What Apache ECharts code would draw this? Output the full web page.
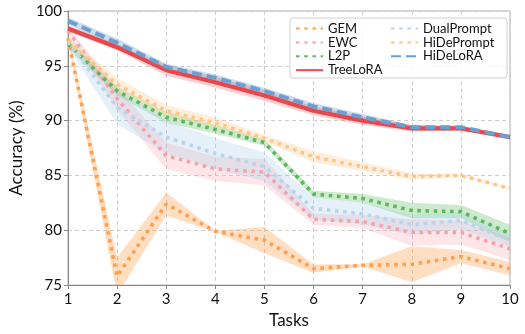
<!DOCTYPE html>
<html><head><meta charset="utf-8">
<script src="https://cdn.jsdelivr.net/npm/echarts@6/dist/echarts.min.js"></script>
<style>html,body{margin:0;padding:0;background:#fff}#c{width:525px;height:334px}</style>
</head><body><div id="c"></div>
<script>
const tasks = [1,2,3,4,5,6,7,8,9,10];
const yTicks = [75,80,85,90,95,100];

const gemMean = [97.5, 75.8, 82.4, 79.9, 79.1, 76.5, 76.8, 76.9, 77.6, 76.5];
const gemStd  = [0.3, 1.7, 1.05, 0.05, 1.2, 0.38, 0.1, 1.65, 0.6, 0.6];
const ewcMean = [98.2, 92.0, 86.8, 85.6, 85.3, 81.0, 80.8, 79.8, 79.8, 78.3];
const ewcStd  = [0.3, 1.0, 1.2, 1.1, 1.2, 0.5, 0.6, 1.2, 1.1, 1.0];
const l2pMean = [97.0, 92.7, 90.3, 89.2, 88.0, 83.3, 82.9, 81.8, 81.7, 79.7];
const l2pStd  = [0.4, 0.4, 0.5, 0.4, 0.3, 0.3, 0.4, 0.7, 0.6, 0.8];
const treeMean = [98.4, 96.7, 94.6, 93.5, 92.3, 90.9, 90.0, 89.3, 89.3, 88.5];
const treeStd  = [0.3, 0.3, 0.5, 0.5, 0.5, 0.4, 0.4, 0.3, 0.2, 0.1];
const dualMean = [97.2, 91.2, 88.5, 87.0, 85.8, 82.0, 81.5, 80.5, 80.9, 79.1];
const dualStd  = [0.5, 1.5, 1.5, 1.4, 1.3, 1.0, 1.0, 0.9, 0.8, 0.6];
const hidepMean = [97.3, 93.3, 90.9, 89.8, 88.4, 86.7, 85.8, 84.9, 85.0, 83.8];
const hidepStd  = [0.3, 0.6, 0.5, 0.5, 0.3, 0.5, 0.4, 0.3, 0.1, 0.1];
const hidelMean = [99.1, 97.1, 94.9, 93.9, 92.7, 91.3, 90.3, 89.4, 89.4, 88.5];
const hidelStd  = [0.3, 0.4, 0.3, 0.3, 0.3, 0.3, 0.3, 0.2, 0.1, 0.1];

const DOT = [3.6, 4.6];
const methods = [
  {name:'GEM', mean:gemMean, std:gemStd, color:'#ffa14f', band:'rgba(255,160,80,0.35)', type:DOT, width:3.6},
  {name:'EWC', mean:ewcMean, std:ewcStd, color:'#f7a3ad', band:'rgba(247,163,173,0.28)', type:DOT, width:3.6},
  {name:'L2P', mean:l2pMean, std:l2pStd, color:'#5cb85c', band:'rgba(92,184,92,0.3)', type:DOT, width:3.6},
  {name:'TreeLoRA', mean:treeMean, std:treeStd, color:'#e9474c', band:'rgba(233,71,76,0.25)', type:'solid', width:4.2},
  {name:'DualPrompt', mean:dualMean, std:dualStd, color:'#b9d5ec', band:'rgba(170,205,232,0.3)', type:DOT, width:3.6},
  {name:'HiDePrompt', mean:hidepMean, std:hidepStd, color:'#ffc688', band:'rgba(255,198,136,0.3)', type:DOT, width:3.6},
  {name:'HiDeLoRA', mean:hidelMean, std:hidelStd, color:'#6b9fcf', band:'rgba(107,159,207,0.35)', type:[10,5], width:4}
];

const FONT = 'Lato';
const series = [];
methods.forEach((m, i) => {
  const rows = tasks.map((t, k) => [t, m.mean[k] - m.std[k], m.mean[k] + m.std[k]]);
  series.push({
    name: m.name + '_band', type: 'custom', data: rows, silent: true, clip: true,
    z: 2 + i * 0.1,
    encode: {x: 0, y: [1, 2]},
    renderItem: function (params, api) {
      const idx = params.dataIndex;
      if (idx >= rows.length - 1) return null;
      const a = rows[idx], b = rows[idx + 1];
      const pts = [
        api.coord([a[0], a[1]]), api.coord([b[0], b[1]]),
        api.coord([b[0], b[2]]), api.coord([a[0], a[2]])
      ];
      return {type: 'polygon', shape: {points: pts}, style: {fill: m.band, stroke: null}};
    }
  });
});
methods.forEach((m, i) => {
  series.push({
    name: m.name, type: 'line', data: tasks.map((t, k) => [t, m.mean[k]]),
    symbol: 'none', color: m.color,
    lineStyle: {color: m.color, width: m.width, type: m.type, cap: 'butt'},
    z: 3 + i * 0.1
  });
});

const legendCommon = {
  orient: 'vertical', top: 22, padding: 0, itemWidth: 27, itemHeight: 10, itemGap: 0.9, z: 60,
  itemStyle: {opacity: 0},
  textStyle: {fontSize: 13, lineHeight: 13, color: '#111', fontFamily: FONT}
};

const chart = echarts.init(document.getElementById('c'), null, {renderer: 'canvas'});
chart.setOption({
  animation: false,
  textStyle: {fontFamily: FONT},
  grid: {left: 61, right: 15, top: 11, bottom: 47, show: true, borderColor: '#b0b0b0', borderWidth: 1},
  xAxis: {
    type: 'value', min: 1, max: 10, interval: 1,
    name: 'Tasks', nameLocation: 'middle', nameGap: 23,
    nameTextStyle: {fontSize: 17, color: '#111', fontFamily: FONT},
    axisLine: {show: true, lineStyle: {color: '#888'}},
    axisTick: {show: true, length: 4, lineStyle: {color: '#888'}},
    axisLabel: {fontSize: 15, color: '#111', margin: 7, fontFamily: FONT},
    splitLine: {show: true, lineStyle: {color: '#cfcfcf', type: [4, 3], width: 1}}
  },
  yAxis: {
    type: 'value', min: 75, max: 100, interval: 5,
    name: 'Accuracy (%)', nameLocation: 'middle', nameGap: 37,
    nameTextStyle: {fontSize: 17, color: '#111', fontFamily: FONT},
    axisLine: {show: true, lineStyle: {color: '#888'}},
    axisTick: {show: true, length: 4, lineStyle: {color: '#888'}},
    axisLabel: {fontSize: 15, color: '#111', margin: 6, fontFamily: FONT,
      formatter: v => yTicks.includes(v) ? String(v) : ''},
    splitLine: {show: true, lineStyle: {color: '#cfcfcf', type: [4, 3], width: 1}}
  },
  graphic: [{
    type: 'rect', z: 50, shape: {x: 290, y: 18, width: 217, height: 60, r: 3},
    style: {fill: 'rgba(255,255,255,0.85)', stroke: '#d0d0d0', lineWidth: 1}
  }],
  legend: [
    Object.assign({data: ['GEM', 'EWC', 'L2P', 'TreeLoRA'], left: 295}, legendCommon),
    Object.assign({data: ['DualPrompt', 'HiDePrompt', 'HiDeLoRA'], left: 390}, legendCommon)
  ],
  series: series
});
</script></body></html>
